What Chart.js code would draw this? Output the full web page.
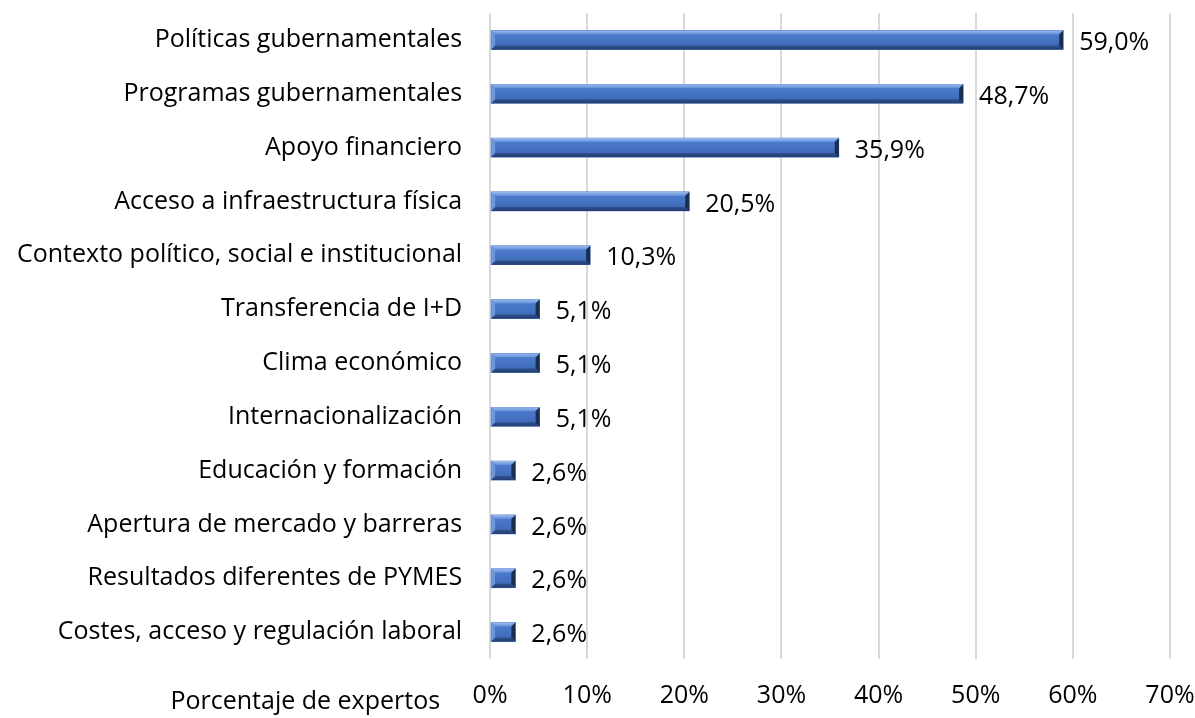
<!DOCTYPE html>
<html>
<head>
<meta charset="utf-8">
<script src="https://cdn.jsdelivr.net/npm/chart.js@4.4.1/dist/chart.umd.min.js"></script>
<style>
  html, body { margin: 0; padding: 0; background: #fff; }
  #wrap { width: 1195px; height: 718px; }
</style>
</head>
<body>
<div id="wrap"><canvas id="factores"></canvas></div>
<script>
const categorias = [
  'Políticas gubernamentales',
  'Programas gubernamentales',
  'Apoyo financiero',
  'Acceso a infraestructura física',
  'Contexto político, social e institucional',
  'Transferencia de I+D',
  'Clima económico',
  'Internacionalización',
  'Educación y formación',
  'Apertura de mercado y barreras',
  'Resultados diferentes de PYMES',
  'Costes, acceso y regulación laboral'
];

const porcentajes = [59.0, 48.7, 35.9, 20.5, 10.3, 5.1, 5.1, 5.1, 2.6, 2.6, 2.6, 2.6];

const ticksX = [0, 10, 20, 30, 40, 50, 60, 70];

const fuente = '"Open Sans", "Noto Sans", sans-serif';
const tamFuente = 25;

// bevel look like the office charts
const biselPlugin = {
  id: 'bisel',
  afterDatasetsDraw(chart) {
    const ctx = chart.ctx;
    chart.getDatasetMeta(0).data.forEach(bar => {
      const x0 = bar.base, x1 = bar.x;
      const y0 = bar.y - bar.height / 2, y1 = bar.y + bar.height / 2;
      const b = Math.min(4, (x1 - x0) / 2);
      ctx.save();
      // body
      const g = ctx.createLinearGradient(0, y0, 0, y1);
      g.addColorStop(0, '#4d7dcf');
      g.addColorStop(0.5, '#4674c4');
      g.addColorStop(1, '#3a63ad');
      ctx.fillStyle = g;
      ctx.fillRect(x0, y0, x1 - x0, y1 - y0);
      // top
      const gt = ctx.createLinearGradient(0, y0, 0, y0 + b);
      gt.addColorStop(0, '#9dbbec');
      gt.addColorStop(1, '#5f8ddb');
      ctx.fillStyle = gt;
      ctx.beginPath();
      ctx.moveTo(x0, y0); ctx.lineTo(x1, y0); ctx.lineTo(x1 - b, y0 + b); ctx.lineTo(x0 + b, y0 + b);
      ctx.closePath(); ctx.fill();
      // bottom
      const gb = ctx.createLinearGradient(0, y1 - b, 0, y1);
      gb.addColorStop(0, '#2f5190');
      gb.addColorStop(1, '#233e70');
      ctx.fillStyle = gb;
      ctx.beginPath();
      ctx.moveTo(x0, y1); ctx.lineTo(x1, y1); ctx.lineTo(x1 - b, y1 - b); ctx.lineTo(x0 + b, y1 - b);
      ctx.closePath(); ctx.fill();
      // left
      ctx.fillStyle = '#6d96dc';
      ctx.beginPath();
      ctx.moveTo(x0, y0); ctx.lineTo(x0 + b, y0 + b); ctx.lineTo(x0 + b, y1 - b); ctx.lineTo(x0, y1);
      ctx.closePath(); ctx.fill();
      // right end
      ctx.fillStyle = '#192d50';
      ctx.beginPath();
      ctx.moveTo(x1, y0); ctx.lineTo(x1 - b, y0 + b); ctx.lineTo(x1 - b, y1 - b); ctx.lineTo(x1, y1);
      ctx.closePath(); ctx.fill();
      ctx.restore();
    });
  }
};

const etiquetasPlugin = {
  id: 'etiquetas',
  afterDatasetsDraw(chart) {
    const ctx = chart.ctx;
    ctx.save();
    ctx.font = tamFuente + 'px ' + fuente;
    ctx.fillStyle = '#000';
    ctx.textBaseline = 'middle';
    ctx.textAlign = 'left';
    chart.getDatasetMeta(0).data.forEach((bar, i) => {
      const txt = porcentajes[i].toFixed(1).replace('.', ',') + '%';
      ctx.fillText(txt, bar.x + 16, bar.y + 3);
    });
    // axis title at bottom left
    ctx.textAlign = 'right';
    ctx.fillText('Porcentaje de expertos', chart.chartArea.left - 50, 702);
    ctx.restore();
  }
};

new Chart(document.getElementById('factores').getContext('2d'), {
  type: 'bar',
  data: {
    labels: categorias,
    datasets: [{
      data: porcentajes,
      backgroundColor: '#4674c4',
      borderWidth: 0,
      barThickness: 19
    }]
  },
  plugins: [biselPlugin, etiquetasPlugin],
  options: {
    indexAxis: 'y',
    responsive: true,
    maintainAspectRatio: false,
    animation: false,
    layout: { padding: { top: 13, right: 25, bottom: -15, left: -11 } },
    plugins: {
      legend: { display: false },
      tooltip: { enabled: false }
    },
    scales: {
      x: {
        min: 0,
        max: 70,
        afterBuildTicks: scale => { scale.ticks = ticksX.map(v => ({ value: v })); },
        afterFit: scale => { scale.paddingLeft = 0; scale.paddingRight = 0; },
        grid: { color: '#d9d9d9', lineWidth: 2, drawTicks: false },
        border: { display: false },
        ticks: {
          color: '#000',
          padding: 22,
          font: { family: fuente, size: tamFuente },
          callback: v => v + '%'
        }
      },
      y: {
        grid: { display: false, drawTicks: false },
        border: { display: false },
        afterFit: scale => { scale.paddingTop = 0; scale.paddingBottom = 0; },
        ticks: {
          color: '#000',
          padding: 28,
          font: { family: fuente, size: tamFuente }
        }
      }
    }
  }
});
</script>
</body>
</html>
